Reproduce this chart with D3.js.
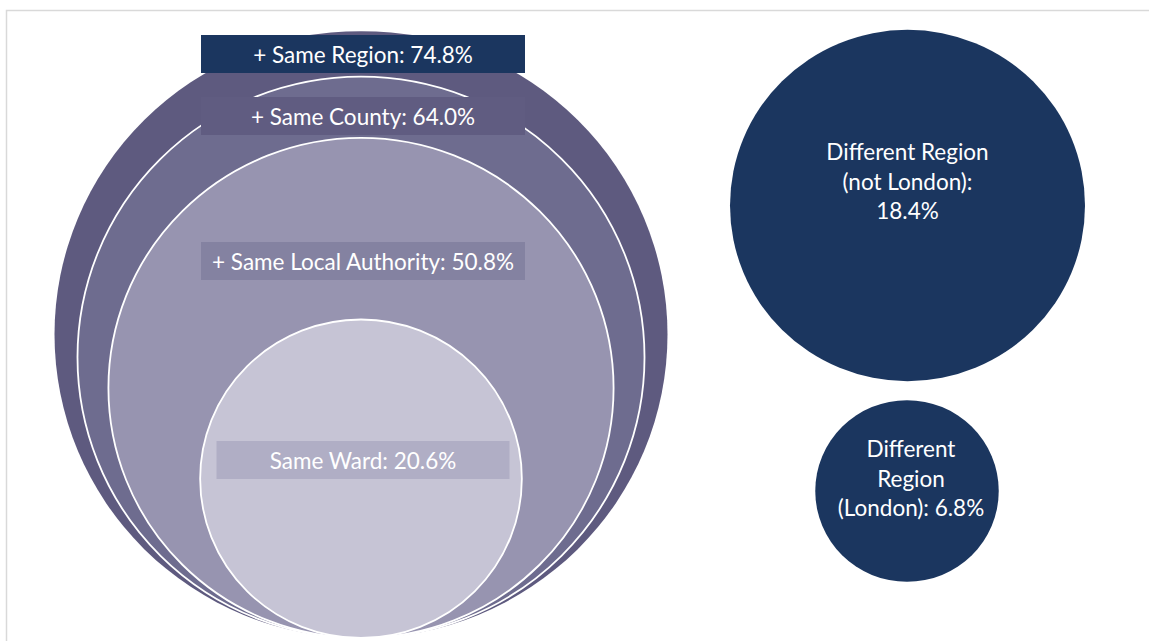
<!DOCTYPE html>
<html>
<head>
<meta charset="utf-8">
<script src="https://cdn.jsdelivr.net/npm/d3@7"></script>
<style>
  html, body { margin: 0; padding: 0; background: #ffffff; }
  svg { display: block; }
  text { font-family: "Lato", "Open Sans", sans-serif; fill: #ffffff; }
</style>
</head>
<body>
<script>
// ---- data ----
const nestedLabels = ["+ Same Region", "+ Same County", "+ Same Local Authority", "Same Ward"];
const nestedValues = [74.8, 64.0, 50.8, 20.6];
const otherLabels = [["Different Region", "(not London):", "18.4%"], ["Different", "Region", "(London): 6.8%"]];
const otherValues = [18.4, 6.8];

// ---- styling ----
const nestedFill = ["#5e5a7f", "#6e6c8f", "#9794b0", "#c6c4d5"];
const labelBoxFill = ["#1b365f", "#605c81", "#8482a1", "#b0aec5"];
const otherFill = "#1b365f";
const fontSize = "22.5px";

const W = 1149, H = 641;
const svg = d3.select("body").append("svg").attr("width", W).attr("height", H);

// frame
svg.append("rect").attr("x", 6.5).attr("y", 10.5).attr("width", W + 10).attr("height", H + 10)
  .attr("fill", "none").attr("stroke", "#d9d9d9").attr("stroke-width", 1.5);

const squash = 0.99;

// nested circles (area-proportional)
const rNested = d3.scaleSqrt().domain([0, d3.max(nestedValues)]).range([0, 306.5]);
const nestedCx = 361, nestedBottom = 638;

const nested = nestedValues.map((v, i) => ({ v, label: nestedLabels[i], i }));
svg.append("g").selectAll("ellipse").data(nested).join("ellipse")
  .attr("cx", nestedCx)
  .attr("cy", d => nestedBottom - rNested(d.v) * squash)
  .attr("rx", d => rNested(d.v))
  .attr("ry", d => rNested(d.v) * squash)
  .attr("fill", d => nestedFill[d.i])
  .attr("stroke", d => d.i === 0 ? "none" : "#ffffff")
  .attr("stroke-width", 1.8);

// nested labels
const labelCy = [54, 116, 261, 460];
const labelW = [324, 324, 324, 293];
const labelH = 38;
const lg = svg.append("g").selectAll("g").data(nested).join("g");
lg.append("rect")
  .attr("x", d => nestedCx + 2 - labelW[d.i] / 2)
  .attr("y", d => labelCy[d.i] - labelH / 2)
  .attr("width", d => labelW[d.i])
  .attr("height", labelH)
  .attr("fill", d => labelBoxFill[d.i]);
lg.append("text")
  .attr("x", nestedCx + 2)
  .attr("y", d => labelCy[d.i])
  .attr("text-anchor", "middle")
  .attr("dominant-baseline", "central")
  .style("font-size", fontSize)
  .text(d => `${d.label}: ${d.v.toFixed(1)}%`);

// other-region circles
const rOther = d3.scalePow().exponent(0.663).domain([0, d3.max(otherValues)]).range([0, 177.5]);
const otherCx = [907.5, 907];
const otherCy = [205.5, 491];
const textDx = [0, 4];
const others = otherValues.map((v, i) => ({ v, lines: otherLabels[i], i }));
const og = svg.append("g").selectAll("g").data(others).join("g");
og.append("ellipse")
  .attr("cx", d => otherCx[d.i])
  .attr("cy", d => otherCy[d.i])
  .attr("rx", d => rOther(d.v))
  .attr("ry", d => rOther(d.v) * squash)
  .attr("fill", otherFill);
const lineH = 29.5;
og.each(function (d) {
  const g = d3.select(this);
  const mid = otherCy[d.i] - 0.138 * rOther(d.v);
  const n = d.lines.length;
  g.selectAll("text").data(d.lines).join("text")
    .attr("x", otherCx[d.i] + textDx[d.i])
    .attr("y", (t, k) => mid + (k - (n - 1) / 2) * lineH)
    .attr("text-anchor", "middle")
    .attr("dominant-baseline", "central")
    .style("font-size", fontSize)
    .text(t => t);
});
</script>
</body>
</html>
